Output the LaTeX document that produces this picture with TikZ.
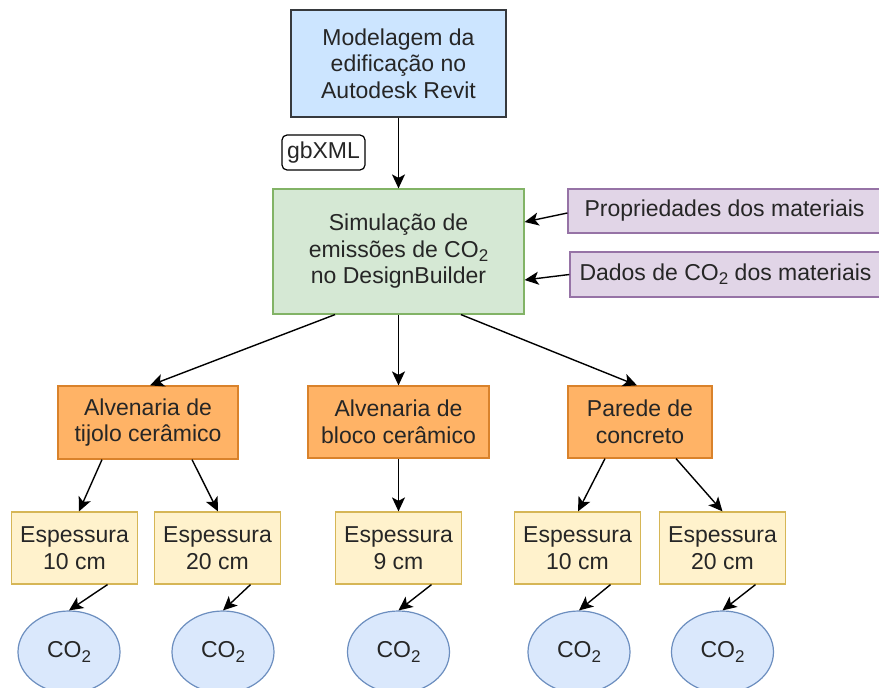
\documentclass[tikz,border=0pt]{standalone}
\usepackage{fontspec}
\setmainfont{Liberation Sans}
\usetikzlibrary{shapes.geometric,arrows.meta}
\definecolor{txt}{HTML}{262626}
\definecolor{bluefill}{HTML}{CCE5FF}
\definecolor{bluedraw}{HTML}{36393D}
\definecolor{greenfill}{HTML}{D5E8D4}
\definecolor{greendraw}{HTML}{82B366}
\definecolor{purplefill}{HTML}{E1D5E7}
\definecolor{purpledraw}{HTML}{9673A6}
\definecolor{orangefill}{HTML}{FFB366}
\definecolor{orangedraw}{HTML}{D9822B}
\definecolor{yellowfill}{HTML}{FFF2CC}
\definecolor{yellowdraw}{HTML}{D6B656}
\definecolor{efill}{HTML}{DAE8FC}
\definecolor{edraw}{HTML}{6C8EBF}
\newcommand{\subtwo}{\raisebox{-0.35ex}{\fontsize{17}{17}\selectfont 2}}
\tikzset{
  base/.style={draw, line width=1.2pt, inner sep=0pt, align=center, text=txt,
    font=\fontsize{23}{26.5}\selectfont},
  topbox/.style={base, fill=bluefill, draw=bluedraw, minimum width=215pt, minimum height=107pt},
  tagbox/.style={base, draw=black, fill=white, rounded corners=5pt, minimum width=83pt, minimum height=35pt},
  simbox/.style={base, fill=greenfill, draw=greendraw, minimum width=251pt, minimum height=125pt},
  inbox/.style={base, fill=purplefill, draw=purpledraw, minimum height=44pt},
  wallbox/.style={base, fill=orangefill, draw=orangedraw, minimum height=72pt},
  thickbox/.style={base, fill=yellowfill, draw=yellowdraw, minimum width=126pt, minimum height=72pt},
  co/.style={base, ellipse, fill=efill, draw=edraw, minimum width=102pt, minimum height=82pt},
  arr/.style={line width=1.4pt, draw=black, -{Stealth[length=14pt,width=13pt,inset=3.5pt]}}
}
\begin{document}
\begin{tikzpicture}[x=1pt,y=-1pt]
\useasboundingbox[fill=white] (0,0) rectangle (879,688);
\node[topbox] (top) at (398.5,63.5) {Modelagem da\\edificação no\\Autodesk Revit};
\node[tagbox] (tag) at (323.5,152.5) {gbXML};
\node[simbox] (sim) at (398.5,251.5) {Simulação de\\emissões de CO\subtwo\\no DesignBuilder};
\node[inbox, minimum width=313pt] (p1) at (724.5,211) {Propriedades dos materiais};
\node[inbox, minimum width=311pt, minimum height=45pt] (p2) at (725.5,274.5) {Dados de CO\subtwo{} dos materiais};
\node[wallbox, minimum width=180pt, minimum height=73pt] (wl) at (148,422.5) {Alvenaria de\\tijolo cerâmico};
\node[wallbox, minimum width=181pt] (wm) at (398.5,422) {Alvenaria de\\bloco cerâmico};
\node[wallbox, minimum width=144pt] (wr) at (640,422) {Parede de\\concreto};
\node[thickbox] (t1) at (74.5,548) {Espessura\\10 cm};
\node[thickbox] (t2) at (217.5,548) {Espessura\\20 cm};
\node[thickbox] (t3) at (398.5,548) {Espessura\\9 cm};
\node[thickbox] (t4) at (577.5,548) {Espessura\\10 cm};
\node[thickbox] (t5) at (722.5,548) {Espessura\\20 cm};
\node[co] (c1) at (69,652) {CO\subtwo};
\node[co] (c2) at (223,652) {CO\subtwo};
\node[co] (c3) at (398.5,652) {CO\subtwo};
\node[co] (c4) at (579,652) {CO\subtwo};
\node[co] (c5) at (722.5,652) {CO\subtwo};
\draw[arr] (top.south) -- (sim.north);
\draw[arr] ([yshift=-2pt]p1.west) -- ([yshift=29.5pt]sim.east);
\draw[arr] (p2.west) -- ([yshift=-28.5pt]sim.east);
\draw[arr] ([xshift=-63.5pt]sim.south) -- ([xshift=2pt]wl.north);
\draw[arr] (sim.south) -- (wm.north);
\draw[arr] ([xshift=62.5pt]sim.south) -- ([xshift=-3pt]wr.north);
\draw[arr] ([xshift=-46pt]wl.south) -- ([xshift=4.5pt]t1.north);
\draw[arr] ([xshift=44pt]wl.south) -- ([xshift=0.5pt]t2.north);
\draw[arr] (wm.south) -- (t3.north);
\draw[arr] ([xshift=-35pt]wr.south) -- ([xshift=0.5pt]t4.north);
\draw[arr] ([xshift=36pt]wr.south) -- (t5.north);
\draw[arr] ([xshift=33pt]t1.south) -- (c1.north);
\draw[arr] ([xshift=33pt]t2.south) -- (c2.north);
\draw[arr] ([xshift=33pt]t3.south) -- (c3.north);
\draw[arr] ([xshift=33pt]t4.south) -- (c4.north);
\draw[arr] ([xshift=33pt]t5.south) -- (c5.north);
\end{tikzpicture}
\end{document}
